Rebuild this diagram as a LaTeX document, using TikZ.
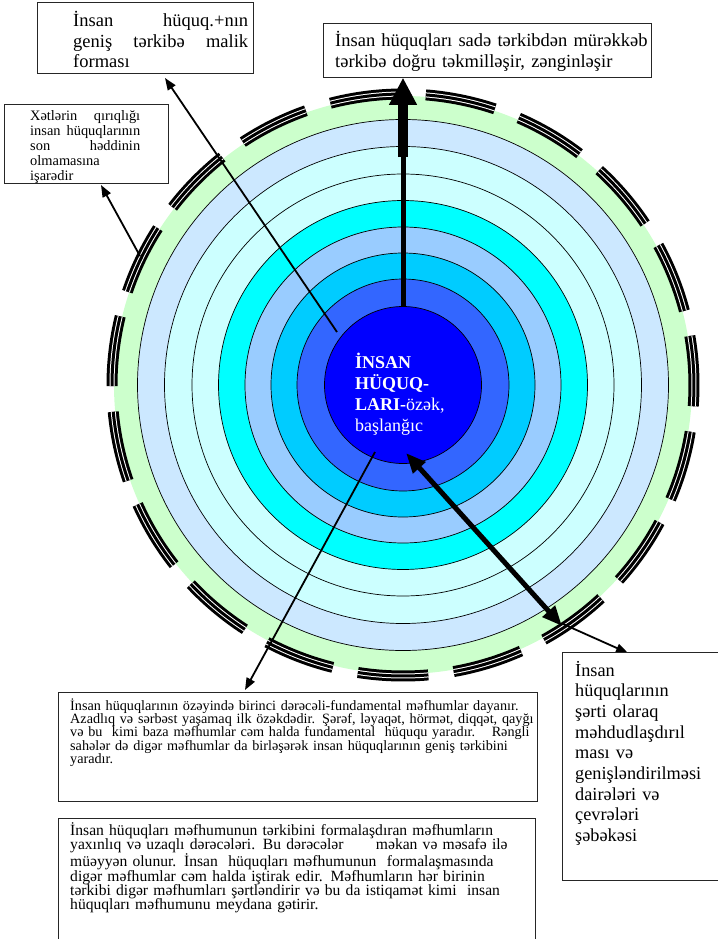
\documentclass[tikz,border=0pt]{standalone}
\usepackage{fontspec}
\setmainfont{Liberation Serif}
\usetikzlibrary{arrows.meta}
\definecolor{cGreen}{HTML}{CCFFCC}
\definecolor{cPale}{HTML}{CCE8FF}
\definecolor{cIce}{HTML}{CCFFFF}
\definecolor{cCyan}{HTML}{00FFFF}
\definecolor{cSky}{HTML}{99CCFF}
\definecolor{cTurq}{HTML}{00CCFF}
\definecolor{cRoyal}{HTML}{3366FF}
\definecolor{cBlue}{HTML}{0000FF}
\tikzset{
  disc/.style 2 args={circle, draw=black, line width=0.7pt, fill=#1, minimum size=#2, inner sep=0pt},
  framebox/.style={draw=black!85, line width=0.9pt, fill=white, inner sep=0pt, anchor=north west},
  txt/.style={anchor=base west, inner sep=0pt, align=left, text width=#1},
  thinarrow/.style={line width=1.8pt, -{Triangle[length=12pt,width=9pt]}},
}
\begin{document}
\begin{tikzpicture}[x=1pt,y=-1pt]
\useasboundingbox (0,0) rectangle (717,939);
\coordinate (ctr) at (403,385);
% rings
\fill[cGreen] (ctr) circle[radius=289];
\node[disc={cPale}{531pt}] (r8) at (ctr) {};
\node[disc={cIce}{477pt}] (r7) at (ctr) {};
\node[disc={cIce}{422pt}] (r6) at (ctr) {};
\node[disc={cCyan}{369pt}] (r5) at (ctr) {};
\node[disc={cSky}{316pt}] (r4) at (ctr) {};
\node[disc={cTurq}{264pt}] (r3) at (ctr) {};
\node[disc={cRoyal}{212pt}] (r2) at (ctr) {};
\node[disc={cBlue}{157pt}] (r1) at (ctr) {};
% broken outer ring
\foreach \i in {0,...,18} {
  \pgfmathsetmacro\a{274.5+\i*18.947}
  \draw[line width=11pt, black] ([shift={(\a:291)}]ctr) arc[start angle=\a, delta angle=13.9, radius=291];
  \draw[line width=5pt, white] ([shift={(\a:291)}]ctr) arc[start angle=\a, delta angle=13.9, radius=291];
  \draw[line width=3pt, black] ([shift={(\a:291)}]ctr) arc[start angle=\a, delta angle=13.9, radius=291];
}
% centre text
\node[txt=125pt, text=white, font=\fontsize{18}{21.3}\selectfont] (core) at (355,368)
  {\textbf{İNSAN}\\ \textbf{HÜQUQ-}\\ \textbf{LARI-}özək,\\ başlanğıc};
% arrow end points
\coordinate (tlS) at (337,332);
\coordinate (tlE) at (165,78);
\coordinate (slS) at (140,256);
\coordinate (slE) at (101,185);
\coordinate (upS) at (403,307);
\coordinate (upE) at (403,78);
\coordinate (upM) at (403,157);
\coordinate (upH) at (403,104);
\coordinate (dgS) at (406,453);
\coordinate (dgE) at (562,626);
\coordinate (rbS) at (563,624);
\coordinate (rbE) at (628,653);
\coordinate (b1S) at (375,452);
\coordinate (b1E) at (245,690);
% arrows
\draw[thinarrow] (tlS) -- (tlE);
\draw[thinarrow] (slS) -- (slE);
\draw[thinarrow] (rbS) -- (rbE);
\draw[thinarrow] (b1S) -- (b1E);
\draw[line width=5pt, -{Triangle[length=27pt,width=27pt]}] (upS) -- (upE);
\draw[line width=10pt] (upM) -- (upH);
\draw[line width=5pt, {Triangle[length=20pt,width=16pt]}-{Triangle[length=20pt,width=16pt]}] (dgS) -- (dgE);
% boxes
\node[framebox, minimum width=216pt, minimum height=71pt] (tl) at (37,2) {};
\node[framebox, minimum width=328pt, minimum height=54pt] (tr) at (323,23) {};
\node[framebox, minimum width=164pt, minimum height=79pt] (sl) at (4,104) {};
\node[framebox, minimum width=156pt, minimum height=228pt] (rb) at (562,652) {};
\node[framebox, minimum width=479pt, minimum height=109pt] (b1) at (58,692) {};
\node[framebox, minimum width=477pt, minimum height=140pt] (b2) at (58,818) {};
% box texts
\node[txt=175pt, font=\fontsize{18.5}{20.5}\selectfont] (tlT) at (73,27)
  {\makebox[175pt]{İnsan\hfill hüquq.+nın}\\ \makebox[175pt]{geniş\hfill tərkibə\hfill malik}\\ forması};
\node[txt=320pt, font=\fontsize{18.5}{20.5}\selectfont] (trT) at (335,47)
  {İnsan hüquqları sadə tərkibdən mürəkkəb\\ tərkibə doğru təkmilləşir, zənginləşir};
\node[txt=110pt, font=\fontsize{14.4}{15}\selectfont] (slT) at (30,121)
  {\makebox[110pt]{Xətlərin\hfill qırıqlığı}\\ \makebox[110pt]{insan\hfill hüquqlarının}\\ \makebox[110pt]{son\hfill həddinin}\\ olmamasına\\ işarədir};
\node[txt=150pt, font=\fontsize{18.3}{20.7}\selectfont] (rbT) at (575,676)
  {İnsan\\ hüquqlarının\\ şərti olaraq\\ məhdudlaşdırıl\\ ması və\\ genişləndirilməsi\\ dairələri və\\ çevrələri\\ şəbəkəsi};
\node[txt=520pt, font=\fontsize{14.2}{13.4}\selectfont] (b1T) at (70,710)
  {İnsan hüquqlarının özəyində birinci dərəcəli-fundamental məfhumlar dayanır.\\
   Azadlıq və sərbəst yaşamaq ilk özəkdədir. Şərəf, ləyaqət, hörmət, diqqət, qayğı\\
   və bu \ kimi baza məfhumlar cəm halda fundamental \ hüququ yaradır. \ \ Rəngli\\
   sahələr də digər məfhumlar da birləşərək insan hüquqlarının geniş tərkibini\\
   yaradır.};
\node[txt=470pt, font=\fontsize{15.6}{14.4}\selectfont] (b2T) at (70,835)
  {İnsan hüquqları məfhumunun tərkibini formalaşdıran məfhumların\\
   yaxınlıq və uzaqlı dərəcələri. Bu dərəcələr \hspace{22pt} məkan və məsafə ilə\\
   müəyyən olunur. İnsan \ hüquqları məfhumunun \ formalaşmasında\\
   digər məfhumlar cəm halda iştirak edir. Məfhumların hər birinin\\
   tərkibi digər məfhumları şərtləndirir və bu da istiqamət kimi \ insan\\
   hüquqları məfhumunu meydana gətirir.};
\end{tikzpicture}
\end{document}
